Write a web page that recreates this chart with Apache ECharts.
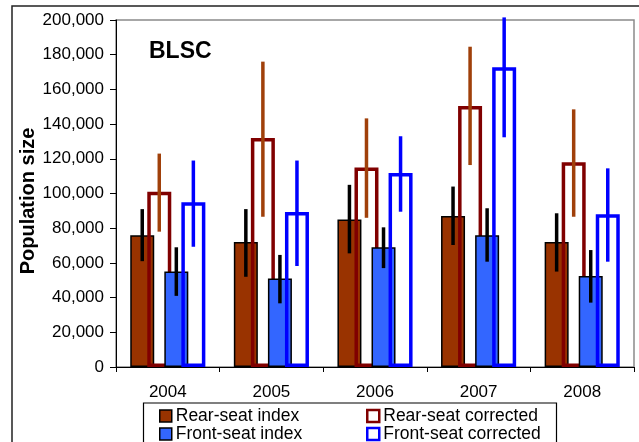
<!DOCTYPE html>
<html>
<head>
<meta charset="utf-8">
<script src="https://cdn.jsdelivr.net/npm/echarts@6/dist/echarts.min.js"></script>
<style>
html,body{margin:0;padding:0;background:#fff;}
#chart{width:639px;height:442px;}
</style>
</head>
<body>
<div id="chart"></div>
<script>
// ---- data ----
var years = ['2004', '2005', '2006', '2007', '2008'];
var yTicks = [0, 20000, 40000, 60000, 80000, 100000, 120000, 140000, 160000, 180000, 200000];

var rearIndex      = [76000, 72000, 85000, 87000, 72000];
var rearIndexLo    = [61000, 52000, 65500, 70300, 55000];
var rearIndexHi    = [91000, 91000, 105000, 104000, 88600];

var rearCorr       = [101000, 132000, 115000, 150500, 118000];
var rearCorrLo     = [78000, 86600, 86000, 116400, 86600];
var rearCorrHi     = [123000, 176000, 143300, 184600, 148500];

var frontIndex     = [55000, 51000, 69000, 76000, 52400];
var frontIndexLo   = [41000, 36700, 57000, 60700, 37100];
var frontIndexHi   = [69000, 64600, 80500, 91500, 67400];

var frontCorr      = [95000, 89300, 111800, 172700, 88000];
var frontCorrLo    = [69300, 58200, 89500, 132400, 60700];
var frontCorrHi    = [119000, 119000, 133000, 201500, 114500];

var seriesNames = ['Rear-seat index', 'Rear-seat corrected', 'Front-seat index', 'Front-seat corrected'];

// ---- layout constants ----
var FONT = '"Liberation Sans", Arial, sans-serif';
var BAR_W = 24;
var BAR_GAP = -0.29;

function barCenterOffset(i, n) {
  var total = n * BAR_W + (n - 1) * BAR_W * BAR_GAP;
  return -total / 2 + BAR_W / 2 + i * BAR_W * (1 + BAR_GAP);
}

function errData(lo, hi) {
  return lo.map(function (v, i) { return [i, v, hi[i]]; });
}

function errSeries(lo, hi, idx, color) {
  return {
    type: 'custom',
    silent: true,
    clip: false,
    z: 5,
    data: errData(lo, hi),
    encode: { x: 0, y: [1, 2] },
    renderItem: function (params, api) {
      var p1 = api.coord([api.value(0), api.value(1)]);
      var p2 = api.coord([api.value(0), api.value(2)]);
      var x = p1[0] + barCenterOffset(idx, 4);
      return {
        type: 'line',
        shape: { x1: x, y1: p1[1], x2: x, y2: p2[1] },
        style: { stroke: color, lineWidth: 3.5 }
      };
    }
  };
}

var chart = echarts.init(document.getElementById('chart'), null, { renderer: 'canvas' });

var legendCommon = {
  orient: 'vertical', top: 407, height: 60, padding: 0,
  itemWidth: 12, itemHeight: 12, itemGap: 0,
  selectedMode: false,
  textStyle: { fontFamily: FONT, fontSize: 17.5, color: '#000', padding: [0, 0, 0, -1] }
};

var option = {
  animation: false,
  backgroundColor: '#fff',
  title: {
    text: 'BLSC',
    left: 144,
    top: 35,
    textStyle: { fontFamily: FONT, fontWeight: 'bold', fontSize: 23, color: '#000' }
  },
  grid: {
    left: 116, right: 5, top: 20, bottom: 75,
    show: true, borderColor: '#8a8a8a', borderWidth: 1.5, backgroundColor: 'transparent'
  },
  legend: [
    Object.assign({}, legendCommon, {
      left: 159,
      data: [
        { name: 'Rear-seat index', icon: 'rect', itemStyle: { color: '#993300', borderColor: '#000', borderWidth: 1.5 } },
        { name: 'Front-seat index', icon: 'rect', itemStyle: { color: '#3366ff', borderColor: '#000', borderWidth: 1.5 } }
      ]
    }),
    Object.assign({}, legendCommon, {
      left: 366,
      data: [
        { name: 'Rear-seat corrected', icon: 'rect', itemStyle: { color: '#fff', borderColor: '#800000', borderWidth: 2.5 } },
        { name: 'Front-seat corrected', icon: 'rect', itemStyle: { color: '#fff', borderColor: '#0000ff', borderWidth: 2.5 } }
      ]
    })
  ],
  xAxis: {
    type: 'category',
    data: years,
    boundaryGap: true,
    axisLine: { show: true, lineStyle: { color: '#000', width: 1 } },
    axisTick: { show: true, length: 5, lineStyle: { color: '#000' } },
    axisLabel: { fontFamily: FONT, fontSize: 17, color: '#000', margin: 17 },
    splitLine: { show: false },
    z: 10
  },
  yAxis: {
    type: 'value',
    min: yTicks[0],
    max: yTicks[yTicks.length - 1],
    interval: yTicks[1] - yTicks[0],
    name: 'Population size',
    nameLocation: 'middle',
    nameRotate: 90,
    nameGap: 78,
    nameMoveOverlap: false,
    nameTextStyle: { fontFamily: FONT, fontWeight: 'bold', fontSize: 20, color: '#000', padding: [0, 15, 0, 0] },
    axisLine: { show: true, lineStyle: { color: '#000', width: 1 } },
    axisTick: { show: true, length: 6, lineStyle: { color: '#000' } },
    axisLabel: {
      fontFamily: FONT, fontSize: 17, color: '#000', margin: 12,
      formatter: function (v) { return v.toLocaleString('en-US'); }
    },
    splitLine: { show: false },
    z: 10
  },
  series: [
    {
      name: seriesNames[0], type: 'bar', data: rearIndex, barWidth: BAR_W, barGap: (BAR_GAP * 100) + '%',
      itemStyle: { color: '#993300', borderColor: '#000', borderWidth: 1.5 },
      emphasis: { disabled: true }, z: 2
    },
    {
      name: seriesNames[1], type: 'bar', data: rearCorr, barWidth: BAR_W, barGap: (BAR_GAP * 100) + '%',
      itemStyle: { color: 'rgba(255,255,255,0)', borderColor: '#800000', borderWidth: 3.5 },
      emphasis: { disabled: true }, z: 2
    },
    {
      name: seriesNames[2], type: 'bar', data: frontIndex, barWidth: BAR_W, barGap: (BAR_GAP * 100) + '%',
      itemStyle: { color: '#3366ff', borderColor: '#000', borderWidth: 1.5 },
      emphasis: { disabled: true }, z: 2
    },
    {
      name: seriesNames[3], type: 'bar', data: frontCorr, barWidth: BAR_W, barGap: (BAR_GAP * 100) + '%',
      itemStyle: { color: 'rgba(255,255,255,0)', borderColor: '#0000ff', borderWidth: 3.5 },
      emphasis: { disabled: true }, z: 2
    },
    errSeries(rearIndexLo, rearIndexHi, 0, '#000000'),
    errSeries(rearCorrLo, rearCorrHi, 1, '#a0400a'),
    errSeries(frontIndexLo, frontIndexHi, 2, '#000000'),
    errSeries(frontCorrLo, frontCorrHi, 3, '#0000ff')
  ],
  graphic: [
    {
      type: 'rect', z: -10, silent: true,
      shape: { x: 12, y: 6, width: 700, height: 600 },
      style: { fill: 'none', stroke: '#222', lineWidth: 1.5 }
    },
    {
      type: 'rect', z: -5, silent: true,
      shape: { x: 143.5, y: 403, width: 413, height: 80 },
      style: { fill: '#fff', stroke: '#000', lineWidth: 1.2 }
    }
  ]
};

chart.setOption(option);
</script>
</body>
</html>
